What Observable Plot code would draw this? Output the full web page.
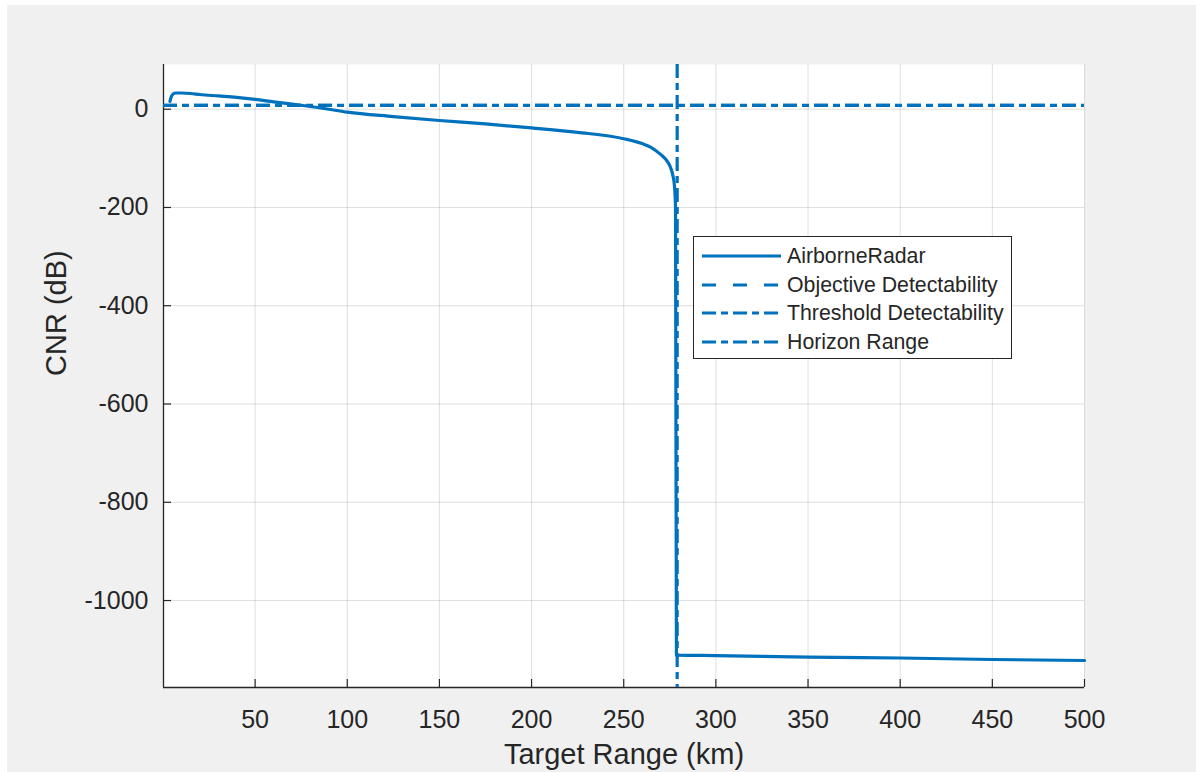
<!DOCTYPE html>
<html>
<head>
<meta charset="utf-8">
<script src="https://cdn.jsdelivr.net/npm/d3@7"></script>
<script src="https://cdn.jsdelivr.net/npm/@observablehq/plot@0.6"></script>
<style>
  body { margin: 0; background: #ffffff; width: 1196px; height: 772px; overflow: hidden;
         font-family: "Liberation Sans", Arial, sans-serif; }
  #fig { position: absolute; left: 7px; top: 5px; right: 0; bottom: 0; background: #f0f0f0; }
  #chart { position: absolute; left: 0; top: 0; }
  #legend { position: absolute; left: 693px; top: 236px; width: 317px; height: 121px;
            background: #ffffff; border: 1px solid #262626; }
  .row { position: absolute; left: 0; height: 24px; width: 317px; }
  .row svg { position: absolute; left: 8px; top: 0; }
  .row span { position: absolute; left: 93px; top: 0; line-height: 24px; font-size: 21.3px; color: #262626; white-space: nowrap; }
</style>
</head>
<body>
<div id="fig"></div>
<div id="chart"></div>
<div id="legend"></div>
<script>
// ---- data ----
const rangeKm = [3.8, 4.5, 5.5, 7, 10, 15, 20, 30, 40, 50, 60, 75, 90, 100, 125, 150, 175, 200, 225, 250,
                 260, 265, 270, 273, 275, 276.5, 277.5, 278.1, 278.6, 300, 350, 400, 450, 500];
const cnrDb   = [16, 25, 31, 33, 33, 32, 30, 27, 24, 20, 15, 8, 0, -6, -15, -23, -30, -38, -47, -60,
                 -70, -78, -92, -103, -115, -132, -155, -200, -1111, -1112, -1115, -1117, -1120, -1122];
const objectiveDetectability = 8;   // dB
const thresholdDetectability = 8;   // dB
const horizonRangeKm = 279;         // km
const xTicks = [50, 100, 150, 200, 250, 300, 350, 400, 450, 500];
const yTicks = [0, -200, -400, -600, -800, -1000];
const xDomain = [0.3, 500];
const yDomain = [-1177, 91];
const seriesNames = ["AirborneRadar", "Objective Detectability", "Threshold Detectability", "Horizon Range"];

const blue = "#0072BD";
const ink = "#262626";
const lw = 3.2;
const dashed = "14,17";
const dashDot = "14,5,7,5";

const W = 1196, H = 772, mL = 163, mR = 112, mT = 64, mB = 85;
const innerW = W - mL - mR, innerH = H - mT - mB;

const curve = rangeKm.map((r, i) => ({r, c: cnrDb[i]}));

const chart = Plot.plot({
  width: W, height: H,
  marginLeft: mL, marginRight: mR, marginTop: mT, marginBottom: mB,
  style: {background: "transparent", fontFamily: "'Liberation Sans', Arial, sans-serif", fontSize: "25px", color: ink},
  x: {domain: xDomain, label: null},
  y: {domain: yDomain, label: null},
  marks: [
    Plot.frame({fill: "white", stroke: null}),
    Plot.gridX(xTicks, {stroke: ink, strokeOpacity: 0.15, strokeWidth: 1}),
    Plot.gridY(yTicks, {stroke: ink, strokeOpacity: 0.15, strokeWidth: 1}),
    // inward tick marks
    Plot.ruleX(xTicks, {stroke: ink, strokeWidth: 1.2, insetTop: innerH - 8}),
    Plot.ruleY(yTicks, {stroke: ink, strokeWidth: 1.2, insetRight: innerW - 8}),
    // axis lines
    Plot.ruleY([yDomain[0]], {stroke: ink, strokeWidth: 1.3}),
    Plot.ruleX([xDomain[0]], {stroke: ink, strokeWidth: 1.3}),
    Plot.axisX(xTicks, {tickSize: 0, tickPadding: 23, tickFormat: d => String(d), fontSize: 25, fill: ink, label: null}),
    Plot.axisY(yTicks, {tickSize: 0, tickPadding: 15, tickFormat: d => String(d), fontSize: 25, fill: ink, label: null}),
    // series
    Plot.line(curve, {x: "r", y: "c", stroke: blue, strokeWidth: lw, strokeLinejoin: "round", curve: "monotone-x"}),
    Plot.ruleY([objectiveDetectability], {stroke: blue, strokeWidth: lw, strokeDasharray: dashed}),
    Plot.ruleY([thresholdDetectability], {stroke: blue, strokeWidth: lw, strokeDasharray: dashDot}),
    Plot.ruleX([horizonRangeKm], {stroke: blue, strokeWidth: lw, strokeDasharray: dashDot}),
    // axis titles
    Plot.text(["Target Range (km)"], {frameAnchor: "bottom", dy: 76, fontSize: 29, fill: ink}),
    Plot.text(["CNR (dB)"], {frameAnchor: "left", dx: -107, rotate: -90, fontSize: 29, fill: ink})
  ]
});
document.getElementById("chart").appendChild(chart);

// legend
const styles = [null, dashed, dashDot, dashDot];
const rowsTop = [7, 35.5, 64, 93];
const legend = document.getElementById("legend");
seriesNames.forEach((name, i) => {
  const row = document.createElement("div");
  row.className = "row";
  row.style.top = rowsTop[i] + "px";
  const svg = d3.create("svg").attr("width", 79).attr("height", 24);
  svg.append("line").attr("x1", 0).attr("x2", 79).attr("y1", 12).attr("y2", 12)
    .attr("stroke", blue).attr("stroke-width", lw)
    .attr("stroke-dasharray", styles[i]);
  row.appendChild(svg.node());
  const span = document.createElement("span");
  span.textContent = name;
  row.appendChild(span);
  legend.appendChild(row);
});
</script>
</body>
</html>
